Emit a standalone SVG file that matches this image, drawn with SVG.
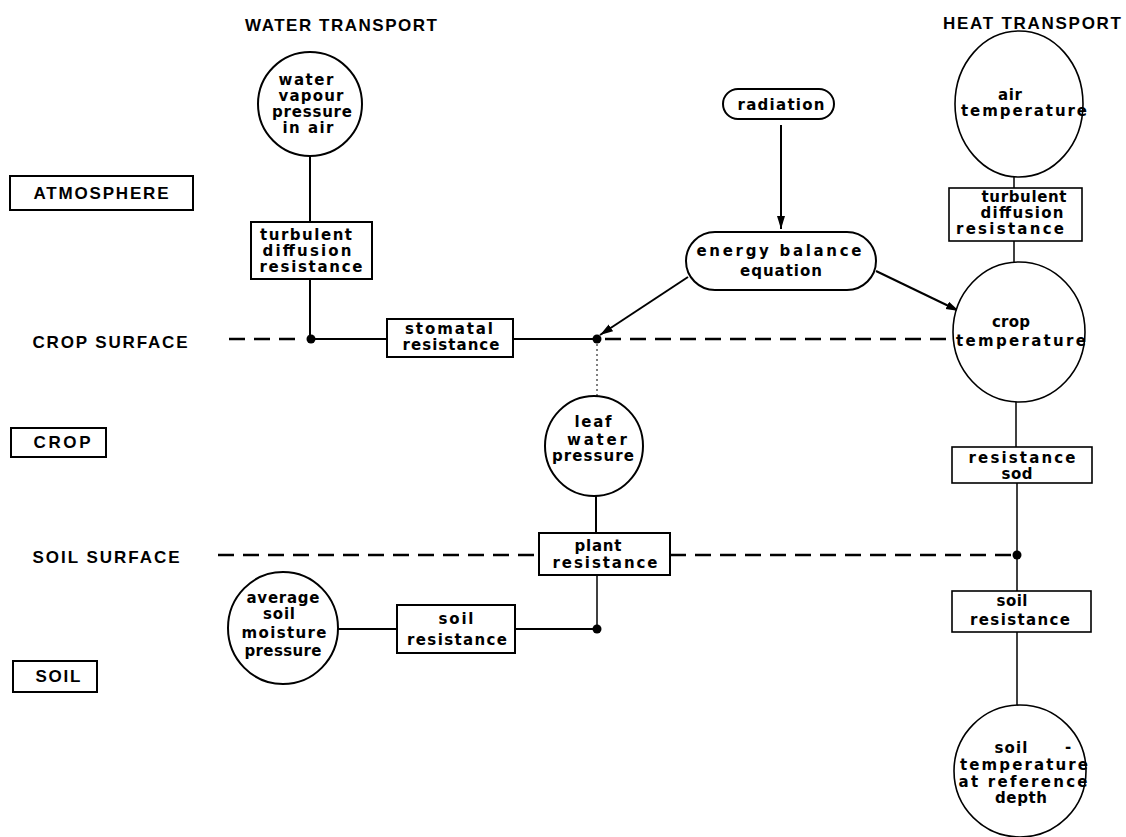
<svg xmlns="http://www.w3.org/2000/svg" width="1126" height="837" viewBox="0 0 1126 837">
<style>
  .bg{fill:#fff}
  .shape{fill:#fff;stroke:#000;stroke-width:2}
  .thin{fill:#fff;stroke:#000;stroke-width:1.6}
  .ln{fill:none;stroke:#000;stroke-width:2}
  .lnt{fill:none;stroke:#000;stroke-width:1.5}
  .dash{fill:none;stroke:#000;stroke-width:2.5;stroke-dasharray:16 9}
  .dot{fill:none;stroke:#000;stroke-width:1;stroke-dasharray:2 3}
  .arr{fill:none;stroke:#000;stroke-width:2;marker-end:url(#ah)}
  .jn{fill:#000}
  .t{font-family:"DejaVu Sans",sans-serif;font-size:15px;font-weight:bold;text-anchor:middle;fill:#000}
  .u{font-family:"Liberation Sans",Arial,sans-serif;font-size:17px;font-weight:bold;text-anchor:middle;fill:#000}
</style>
<defs>
  <marker id="ah" markerUnits="userSpaceOnUse" markerWidth="14" markerHeight="10" refX="13" refY="4" orient="auto">
    <path d="M0,0 L13,4 L0,8 z" fill="#000"/>
  </marker>
</defs>
<rect class="bg" x="0" y="0" width="1126" height="837"/>

<g id="connectors">
  <line class="ln" x1="310" y1="156" x2="310" y2="222"/>
  <line class="ln" x1="310" y1="279" x2="310" y2="339"/>
  <line class="dash" x1="229" y1="339" x2="304" y2="339"/>
  <line class="ln" x1="310" y1="339" x2="387" y2="339"/>
  <line class="ln" x1="513" y1="339" x2="597" y2="339"/>
  <line class="dash" x1="605" y1="339" x2="953" y2="339"/>
  <line class="dot" x1="597" y1="344" x2="597" y2="396"/>
  <line class="ln" x1="596" y1="496" x2="596" y2="533"/>
  <line class="lnt" x1="597" y1="575" x2="597" y2="629"/>
  <line class="ln" x1="515" y1="629" x2="597" y2="629"/>
  <line class="ln" x1="338" y1="629" x2="397" y2="629"/>
  <line class="dash" x1="218" y1="555" x2="539" y2="555"/>
  <line class="dash" x1="670" y1="555" x2="1012" y2="555"/>
  <line class="lnt" x1="1014" y1="177" x2="1014" y2="188"/>
  <line class="lnt" x1="1014" y1="241" x2="1014" y2="262"/>
  <line class="lnt" x1="1016" y1="402" x2="1016" y2="447"/>
  <line class="lnt" x1="1017" y1="483" x2="1017" y2="591"/>
  <line class="lnt" x1="1017" y1="632" x2="1017" y2="705"/>
  <line class="arr" x1="781" y1="125" x2="781" y2="229"/>
  <line class="arr" x1="688" y1="277" x2="600" y2="335"/>
  <line class="arr" x1="876" y1="271" x2="959" y2="311"/>
  <circle class="jn" cx="311" cy="339" r="4.5"/>
  <circle class="jn" cx="597" cy="339" r="4.5"/>
  <circle class="jn" cx="597" cy="629" r="4.5"/>
  <circle class="jn" cx="1017" cy="555" r="4.5"/>
</g>

<g id="label-water-transport"><text class="u" x="341" y="31" textLength="192" lengthAdjust="spacing">WATER TRANSPORT</text></g>
<g id="label-heat-transport"><text class="u" x="1032" y="29" textLength="178" lengthAdjust="spacing">HEAT TRANSPORT</text></g>
<g id="label-atmosphere">
  <rect class="shape" x="10" y="176" width="183" height="34"/>
  <text class="u" x="101" y="199" textLength="135" lengthAdjust="spacing">ATMOSPHERE</text>
</g>
<g id="label-crop-surface"><text class="u" x="110" y="348" textLength="155" lengthAdjust="spacing">CROP SURFACE</text></g>
<g id="label-crop">
  <rect class="shape" x="11" y="428" width="95" height="29"/>
  <text class="u" x="62" y="448" textLength="57" lengthAdjust="spacing">CROP</text>
</g>
<g id="label-soil-surface"><text class="u" x="106" y="563" textLength="147" lengthAdjust="spacing">SOIL SURFACE</text></g>
<g id="label-soil">
  <rect class="shape" x="13" y="661" width="84" height="31"/>
  <text class="u" x="58" y="682" textLength="45" lengthAdjust="spacing">SOIL</text>
</g>

<g id="water-vapour">
  <circle class="shape" cx="310" cy="104" r="52"/>
  <text class="t" x="306" y="85" textLength="55" lengthAdjust="spacing">water</text>
  <text class="t" x="311" y="101" textLength="65" lengthAdjust="spacing">vapour</text>
  <text class="t" x="312" y="117" textLength="80" lengthAdjust="spacing">pressure</text>
  <text class="t" x="308" y="133" textLength="51" lengthAdjust="spacing">in air</text>
</g>
<g id="turbulent-water">
  <rect class="shape" x="251" y="222" width="121" height="57"/>
  <text class="t" x="306" y="240" textLength="92" lengthAdjust="spacing">turbulent</text>
  <text class="t" x="307" y="256" textLength="89" lengthAdjust="spacing">diffusion</text>
  <text class="t" x="311" y="272" textLength="103" lengthAdjust="spacing">resistance</text>
</g>
<g id="stomatal">
  <rect class="shape" x="387" y="319" width="126" height="38"/>
  <text class="t" x="449" y="334" textLength="88" lengthAdjust="spacing">stomatal</text>
  <text class="t" x="451" y="350" textLength="97" lengthAdjust="spacing">resistance</text>
</g>
<g id="radiation">
  <rect class="shape" x="723" y="89" width="111" height="30" rx="15"/>
  <text class="t" x="781" y="110" textLength="87" lengthAdjust="spacing">radiation</text>
</g>
<g id="energy-balance">
  <rect class="shape" x="686" y="232" width="190" height="58" rx="29"/>
  <text class="t" x="779" y="256" textLength="165" lengthAdjust="spacing">energy balance</text>
  <text class="t" x="781" y="276" textLength="82" lengthAdjust="spacing">equation</text>
</g>
<g id="air-temperature">
  <ellipse class="thin" cx="1019" cy="104" rx="64" ry="73"/>
  <text class="t" x="1010" y="100" textLength="24" lengthAdjust="spacing">air</text>
  <text class="t" x="1024" y="116" textLength="126" lengthAdjust="spacing">temperature</text>
</g>
<g id="turbulent-heat">
  <rect class="thin" x="949" y="188" width="133" height="53"/>
  <text class="t" x="1024" y="202" textLength="85" lengthAdjust="spacing">turbulent</text>
  <text class="t" x="1022" y="218" textLength="83" lengthAdjust="spacing">diffusion</text>
  <text class="t" x="1010" y="234" textLength="108" lengthAdjust="spacing">resistance</text>
</g>
<g id="crop-temperature">
  <ellipse class="thin" cx="1019" cy="332" rx="66" ry="70"/>
  <text class="t" x="1011" y="327" textLength="38" lengthAdjust="spacing">crop</text>
  <text class="t" x="1021" y="346" textLength="130" lengthAdjust="spacing">temperature</text>
</g>
<g id="leaf-water">
  <ellipse class="shape" cx="594" cy="446" rx="49" ry="50"/>
  <text class="t" x="593" y="427" textLength="37" lengthAdjust="spacing">leaf</text>
  <text class="t" x="597" y="445" textLength="60" lengthAdjust="spacing">water</text>
  <text class="t" x="593" y="461" textLength="82" lengthAdjust="spacing">pressure</text>
</g>
<g id="plant-resistance">
  <rect class="shape" x="539" y="533" width="131" height="42"/>
  <text class="t" x="598" y="551" textLength="47" lengthAdjust="spacing">plant</text>
  <text class="t" x="605" y="568" textLength="105" lengthAdjust="spacing">resistance</text>
</g>
<g id="soil-resistance-water">
  <rect class="shape" x="397" y="605" width="118" height="48"/>
  <text class="t" x="456" y="624" textLength="35" lengthAdjust="spacing">soil</text>
  <text class="t" x="457" y="645" textLength="100" lengthAdjust="spacing">resistance</text>
</g>
<g id="average-soil-moisture">
  <ellipse class="shape" cx="283" cy="628" rx="55" ry="56"/>
  <text class="t" x="283" y="603" textLength="73" lengthAdjust="spacing">average</text>
  <text class="t" x="279" y="619" textLength="32" lengthAdjust="spacing">soil</text>
  <text class="t" x="284" y="638" textLength="85" lengthAdjust="spacing">moisture</text>
  <text class="t" x="283" y="656" textLength="77" lengthAdjust="spacing">pressure</text>
</g>
<g id="resistance-sod">
  <rect class="thin" x="952" y="447" width="140" height="36"/>
  <text class="t" x="1022" y="463" textLength="107" lengthAdjust="spacing">resistance</text>
  <text class="t" x="1017" y="479" textLength="31" lengthAdjust="spacing">sod</text>
</g>
<g id="soil-resistance-heat">
  <rect class="thin" x="952" y="591" width="139" height="41"/>
  <text class="t" x="1012" y="606" textLength="31" lengthAdjust="spacing">soil</text>
  <text class="t" x="1020" y="625" textLength="100" lengthAdjust="spacing">resistance</text>
</g>
<g id="soil-temperature">
  <circle class="thin" cx="1020" cy="771" r="66"/>
  <text class="t" x="1011" y="753" textLength="33" lengthAdjust="spacing">soil</text>
  <text class="t" x="1068" y="752">-</text>
  <text class="t" x="1024" y="770" textLength="128" lengthAdjust="spacing">temperature</text>
  <text class="t" x="1023" y="787" textLength="129" lengthAdjust="spacing">at reference</text>
  <text class="t" x="1021" y="803" textLength="52" lengthAdjust="spacing">depth</text>
</g>
</svg>
